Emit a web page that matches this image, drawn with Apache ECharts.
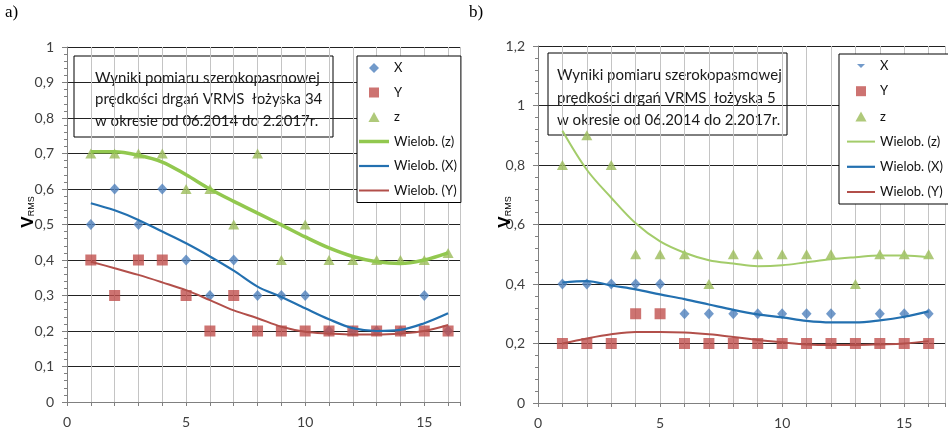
<!DOCTYPE html>
<html>
<head>
<meta charset="utf-8">
<script src="https://cdn.jsdelivr.net/npm/echarts@6/dist/echarts.min.js"></script>
<style>
  html, body { margin: 0; padding: 0; background: #fff; }
  #chart-container { width: 948px; height: 430px; }
</style>
</head>
<body>
<div id="chart-container"></div>
<script>
// numery pomiarów (oś X)
const pomiary = [1, 2, 3, 4, 5, 6, 7, 8, 9, 10, 11, 12, 13, 14, 15, 16];

// a) łożysko 34 - punkty pomiarowe
const a_X = [0.5, 0.6, 0.5, 0.6, 0.4, 0.3, 0.4, 0.3, 0.3, 0.3, 0.2, 0.2, 0.2, 0.2, 0.3, 0.2];
const a_Y = [0.4, 0.3, 0.4, 0.4, 0.3, 0.2, 0.3, 0.2, 0.2, 0.2, 0.2, 0.2, 0.2, 0.2, 0.2, 0.2];
const a_Z = [0.7, 0.7, 0.7, 0.7, 0.6, 0.6, 0.5, 0.7, 0.4, 0.5, 0.4, 0.4, 0.4, 0.4, 0.4, 0.42];
// a) linie trendu (odczytane z wykresu)
const a_trendZ = [0.705, 0.705, 0.695, 0.676, 0.64, 0.60, 0.565, 0.532, 0.499, 0.465, 0.434, 0.41, 0.395, 0.39, 0.40, 0.42];
const a_trendX = [0.56, 0.54, 0.513, 0.48, 0.447, 0.41, 0.37, 0.325, 0.296, 0.264, 0.233, 0.208, 0.2, 0.203, 0.222, 0.25];
const a_trendY = [0.395, 0.377, 0.358, 0.337, 0.315, 0.287, 0.258, 0.236, 0.212, 0.198, 0.193, 0.19, 0.19, 0.193, 0.2, 0.217];

// b) łożysko 5 - punkty pomiarowe
const b_X = [0.4, 0.4, 0.4, 0.4, 0.4, 0.3, 0.3, 0.3, 0.3, 0.3, 0.3, 0.3, null, 0.3, 0.3, 0.3];
const b_Y = [0.2, 0.2, 0.2, 0.3, 0.3, 0.2, 0.2, 0.2, 0.2, 0.2, 0.2, 0.2, 0.2, 0.2, 0.2, 0.2];
const b_Z = [0.8, 0.9, 0.8, 0.5, 0.5, 0.5, 0.4, 0.5, 0.5, 0.5, 0.5, 0.5, 0.4, 0.5, 0.5, 0.5];
// b) linie trendu
const b_trendZ = [0.915, 0.784, 0.69, 0.604, 0.543, 0.505, 0.48, 0.469, 0.46, 0.463, 0.473, 0.483, 0.49, 0.496, 0.496, 0.49];
const b_trendX = [0.405, 0.41, 0.395, 0.382, 0.365, 0.349, 0.331, 0.313, 0.298, 0.288, 0.276, 0.271, 0.271, 0.278, 0.29, 0.308];
const b_trendY = [0.2, 0.217, 0.231, 0.239, 0.239, 0.237, 0.231, 0.222, 0.212, 0.204, 0.197, 0.195, 0.195, 0.197, 0.2, 0.208];

const legendNames = ['X', 'Y', 'z', 'Wielob. (z)', 'Wielob. (X)', 'Wielob. (Y)'];

const kolorX = '#4F81BD';
const kolorY = '#C0504D';
const kolorZ = '#9BBB59';
const czcionka = 'Lato, "Open Sans", sans-serif';

function pary(tab) {
  return pomiary.map((x, i) => [x, tab[i]]);
}

function przecinek(v) {
  return String(+v.toFixed(1)).replace('.', ',');
}

function osX(idx, max) {
  return {
    type: 'value', gridIndex: idx, min: 0, max: max, interval: 1,
    axisLine: { show: true, lineStyle: { color: '#808080' } },
    axisTick: { show: true, length: 4, lineStyle: { color: '#808080' } },
    axisLabel: {
      margin: 13, fontSize: 14, color: '#404040', fontFamily: czcionka,
      formatter: v => (v % 5 === 0 ? String(v) : '')
    },
    splitLine: { show: true, lineStyle: { color: '#c4c4c4', width: 1 } }
  };
}

function osY(idx, max, krok) {
  return {
    type: 'value', gridIndex: idx, min: 0, max: max, interval: krok,
    axisLine: { show: true, lineStyle: { color: '#808080' } },
    axisTick: { show: true, length: 5, lineStyle: { color: '#808080' } },
    minorTick: { show: true, splitNumber: 5, length: 3, lineStyle: { color: '#808080' } },
    axisLabel: { margin: 13, fontSize: 14, color: '#404040', fontFamily: czcionka, formatter: przecinek },
    splitLine: { show: true, lineStyle: { color: '#222', width: 1 } }
  };
}

function serie(idx, X, Y, Z, tZ, tX, tY, sufiks, grubZ, kolZ) {
  return [
    { name: 'X' + sufiks, type: 'scatter', xAxisIndex: idx, yAxisIndex: idx, data: pary(X),
      symbol: 'diamond', symbolSize: [10, 11], itemStyle: { color: kolorX }, z: 2 },
    { name: 'Y' + sufiks, type: 'scatter', xAxisIndex: idx, yAxisIndex: idx, data: pary(Y),
      symbol: 'rect', symbolSize: 11, itemStyle: { color: kolorY }, z: 2 },
    { name: 'z' + sufiks, type: 'scatter', xAxisIndex: idx, yAxisIndex: idx, data: pary(Z),
      symbol: 'triangle', symbolSize: [11, 10], itemStyle: { color: kolorZ }, z: 2 },
    { name: 'Wielob. (z)' + sufiks, type: 'line', xAxisIndex: idx, yAxisIndex: idx, data: pary(tZ),
      smooth: 0.35, symbol: 'none', lineStyle: { color: kolZ, width: grubZ },
      itemStyle: { color: kolZ }, z: 3 },
    { name: 'Wielob. (X)' + sufiks, type: 'line', xAxisIndex: idx, yAxisIndex: idx, data: pary(tX),
      smooth: 0.35, symbol: 'none', lineStyle: { color: '#2370B0', width: 2.2 },
      itemStyle: { color: '#2370B0' }, z: 3 },
    { name: 'Wielob. (Y)' + sufiks, type: 'line', xAxisIndex: idx, yAxisIndex: idx, data: pary(tY),
      smooth: 0.35, symbol: 'none', lineStyle: { color: '#B24F4A', width: 2 },
      itemStyle: { color: '#B24F4A' }, z: 3 }
  ];
}

function linia(szer, grub) {
  const g = grub / 2;
  return 'path://M0,0M' + szer + ',10M0,' + (5 - g) + 'H' + szer + 'V' + (5 + g) + 'H0Z';
}

function legenda(sufiks, left, top, pad, szer, odstep, ikonaX, grubZ) {
  const ikony = [ikonaX, 'path://M0,0H10V10H0Z', 'path://M5,0L10,9L0,9Z',
                 linia(szer, grubZ), linia(szer, 2.2), linia(szer, 2)];
  return {
    orient: 'vertical', left: left, top: top, padding: pad,
    itemWidth: szer, itemHeight: 10, itemGap: odstep,
    backgroundColor: '#fff', borderColor: '#000', borderWidth: 1, borderRadius: 0,
    selectedMode: false,
    textStyle: { fontFamily: czcionka, fontSize: 13, color: '#111', lineHeight: 14 },
    formatter: n => n.replace(sufiks, ''),
    data: legendNames.map((n, i) => ({ name: n + sufiks, icon: ikony[i] })),
    z: 10
  };
}

function ramka(x, y, w, h, tekst, tx, ty, lh) {
  return {
    type: 'group', z: 50,
    children: [
      { type: 'rect', shape: { x: x, y: y, width: w, height: h },
        style: { fill: '#fff', stroke: '#000', lineWidth: 1 } },
      { type: 'text', x: tx, y: ty,
        style: { text: tekst, fontFamily: czcionka, fontSize: 15, lineHeight: lh, fill: '#1a1a1a',
                 verticalAlign: 'top' } }
    ]
  };
}

function nazwaOsi(x, y) {
  return {
    type: 'text', x: x, y: y, rotation: Math.PI / 2, z: 50,
    style: {
      text: '{v|V}{s|RMS}', align: 'center', verticalAlign: 'middle',
      rich: {
        v: { fontSize: 17, fontWeight: 'bold', fontFamily: '"Liberation Sans", Arial', fill: '#000' },
        s: { fontSize: 9, fontFamily: '"Liberation Sans", Arial', fill: '#000', verticalAlign: 'bottom', padding: [4, 0, 0, 0] }
      }
    }
  };
}

const opis34 = 'Wyniki pomiaru szerokopasmowej\nprędkości drgań VRMS  łożyska 34\nw okresie od 06.2014 do 2.2017r.';
const opis5 = 'Wyniki pomiaru szerokopasmowej\nprędkości drgań VRMS  łożyska 5\nw okresie od 06.2014 do 2.2017r.';

let myChart = echarts.init(document.getElementById('chart-container'), null, { renderer: 'canvas' });

const opcje = {
  animation: false,
  backgroundColor: '#fff',
  grid: [
    { left: 67, top: 47, width: 393, height: 355 },
    { left: 538, top: 46, width: 410, height: 358 }
  ],
  xAxis: [osX(0, 16.5), osX(1, 16.67)],
  yAxis: [osY(0, 1, 0.1), osY(1, 1.2, 0.2)],
  legend: [
    legenda('', 357, 56, [5, 4, 5, 2], 30, 10.5, 'path://M5,0L10,5L5,10L0,5Z', 3.5),
    legenda('#b', 839, 54, [5, 12, 5, 8], 28, 11.2, 'path://M0,0M10,10M1,3L9,3L5,7Z', 2)
  ],
  graphic: [
    { type: 'text', x: 5, y: 4, style: { text: 'a)', fontFamily: '"Liberation Serif", serif', fontSize: 17, fill: '#000' } },
    { type: 'text', x: 469, y: 4, style: { text: 'b)', fontFamily: '"Liberation Serif", serif', fontSize: 17, fill: '#000' } },
    ramka(74, 56, 259, 81, opis34, 95, 67, 21.5),
    ramka(548, 53, 239, 82, opis5, 557, 64, 22.5),
    nazwaOsi(28, 212),
    nazwaOsi(505, 212)
  ],
  series: [].concat(
    serie(0, a_X, a_Y, a_Z, a_trendZ, a_trendX, a_trendY, '', 3.5, '#92C84F'),
    serie(1, b_X, b_Y, b_Z, b_trendZ, b_trendX, b_trendY, '#b', 2, '#A3CC6A')
  )
};

myChart.setOption(opcje);
window.addEventListener('resize', myChart.resize);
</script>
</body>
</html>
